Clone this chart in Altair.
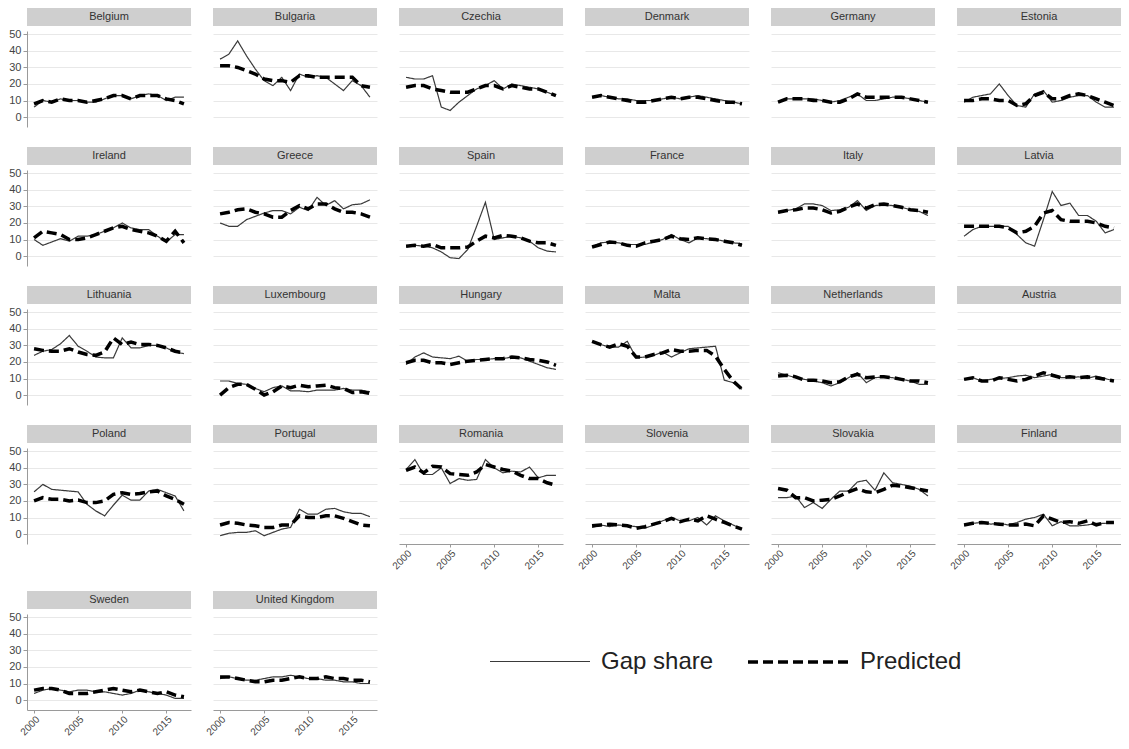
import altair as alt
import pandas as pd

years = list(range(2000, 2018))

belgium_gap = [6, 10, 9, 11, 10, 10, 9, 9, 11, 13, 13, 11, 13, 14, 13, 10, 12, 12]
belgium_pred = [8, 10, 9, 11, 10, 10, 9, 10, 11, 13, 13, 11, 13, 13, 13, 11, 10, 8]
bulgaria_gap = [35, 38, 46, 37, 29, 22, 19, 24, 16, 26, 24, 25, 24, 20, 16, 22, 19, 12]
bulgaria_pred = [31, 31, 30, 28, 26, 23, 22, 22, 21, 25, 25, 24, 24, 24, 24, 24, 19, 18]
czechia_gap = [24, 23, 23, 25, 6, 4, 9, 13, 17, 19, 22, 17, 20, 19, 18, 17, 15, 13]
czechia_pred = [18, 19, 19, 17, 16, 15, 15, 15, 17, 19, 19, 17, 19, 18, 17, 17, 15, 13]
denmark_gap = [12, 13, 12, 11, 11, 10, 10, 10, 11, 12, 11, 12, 13, 12, 11, 10, 9, 8]
denmark_pred = [12, 13, 12, 11, 10, 9, 9, 10, 11, 12, 11, 12, 12, 11, 10, 9, 9, 8]
germany_gap = [9, 11, 11, 11, 11, 10, 9, 10, 12, 14, 10, 10, 11, 12, 12, 11, 10, 9]
germany_pred = [9, 11, 11, 11, 10, 10, 9, 9, 11, 14, 12, 12, 12, 12, 12, 11, 10, 9]
estonia_gap = [9, 12, 13, 14, 20, 13, 7, 6, 14, 16, 9, 10, 12, 13, 13, 9, 6, 6]
estonia_pred = [10, 10, 11, 11, 10, 10, 7, 8, 13, 15, 11, 11, 13, 14, 13, 11, 9, 7]
ireland_gap = [10, 6.5, 8.5, 10.5, 9, 12, 12, 13, 15, 17, 20, 17, 16, 16, 12, 8.5, 13, 13]
ireland_pred = [11, 15, 14, 13, 10, 10, 11, 13, 15, 17, 18, 16, 15, 14, 12, 9, 15, 8]
greece_gap = [20, 18, 18, 22, 24, 26, 27.5, 27.5, 25.5, 29.5, 27.5, 35.5, 30.5, 33.5, 28.5, 31, 31.5, 34]
greece_pred = [25.5, 26.5, 28, 28.5, 26.5, 25.5, 23.5, 23.5, 27.5, 30.5, 28.5, 31.5, 31.5, 28.5, 26.5, 26.5, 25.5, 23.5]
spain_gap = [6, 6.5, 6, 5, 2.5, -1, -1.5, 4, 18, 32.5, 10, 11, 12, 11, 9, 5, 3, 2.5]
spain_pred = [6, 6.5, 6, 7, 5, 5, 5, 5.5, 9, 12, 11, 12.5, 12, 11, 9, 8, 8, 6.5]
france_gap = [5.5, 8, 8.5, 8, 7, 7, 7, 8.5, 10, 13, 10, 8, 11, 10.5, 10, 9, 8, 7.5]
france_pred = [5.5, 7, 8.5, 8, 6.5, 6, 8, 9, 10, 12, 10.5, 10, 11, 10.5, 10, 9, 8, 6.5]
italy_gap = [26, 27.5, 28.5, 31.5, 31.5, 30.5, 27.5, 28, 29.5, 33.5, 27.5, 30.5, 31, 30.5, 29.5, 28, 27, 24.5]
italy_pred = [26.5, 27.5, 28, 29, 29, 28, 26, 27, 29.5, 31.5, 29, 31, 31.5, 30.5, 29.5, 28, 27.5, 26.5]
latvia_gap = [12, 16, 18, 18, 18, 18, 13, 8, 6, 22, 39, 30.5, 32, 24.5, 24.5, 21, 14, 16]
latvia_pred = [18, 18, 18, 18, 18, 17, 14, 15, 18, 26, 27.5, 22, 21, 21, 21, 20, 18, 17]
lithuania_gap = [24, 26.5, 27.5, 31, 36, 29.5, 26.5, 23, 22.5, 22.5, 34.5, 28.5, 28.5, 30, 30, 28.5, 26, 25]
lithuania_pred = [28, 27, 26.5, 26.5, 28, 26, 24.5, 24, 26, 34.5, 30.5, 32, 30.5, 30.5, 30, 28.5, 26.5, 25.5]
luxembourg_gap = [8.5, 8.5, 7, 6.5, 4, 2, 4.5, 5.5, 2.5, 2.5, 2, 3, 3, 3, 4, 3, 3, 2]
luxembourg_pred = [0, 4.5, 6.5, 6.5, 3.5, 0, 2, 5.5, 4.5, 6, 5, 5.5, 6, 4.5, 4, 1.5, 2, 1]
hungary_gap = [18.5, 23, 25.5, 23, 22.5, 22, 23.5, 20.5, 21.5, 21.5, 22, 22, 23, 22.5, 20.5, 18.5, 16.5, 15.5]
hungary_pred = [19.5, 21, 21, 19.5, 19.5, 18.5, 19.5, 20.5, 21, 21.5, 22, 22, 23, 22.5, 21.5, 21, 20, 18]
malta_gap = [32.5, 30.5, 29, 29, 32.5, 22.5, 23, 24, 26, 23, 25.5, 28, 28.5, 29, 29.5, 9, 7.5, 3.5]
malta_pred = [32.5, 30.5, 29, 31, 29.5, 23, 23, 24.5, 25.5, 27.5, 26.5, 26.5, 27, 27, 23.5, 15.5, 8.5, 3.5]
netherlands_gap = [13.5, 12, 10.5, 9.5, 8.5, 7.5, 5.5, 7.5, 10.5, 13.5, 7.5, 10.5, 11, 10.5, 9.5, 8.5, 6.5, 6.5]
netherlands_pred = [11.5, 12, 11, 9, 9, 8.5, 7.5, 8, 11, 12.5, 10.5, 11, 11, 10.5, 9.5, 8.5, 8.5, 7.5]
austria_gap = [9.5, 10.5, 8.5, 9.5, 10, 10.5, 11.5, 12, 10.5, 11.5, 12.5, 10.5, 10.5, 11, 10, 11.5, 10, 8.5]
austria_pred = [9.5, 10.5, 8.5, 8.5, 10.5, 9.5, 8.5, 9.5, 11.5, 13.5, 12, 10.5, 11, 10.5, 11, 10.5, 9.5, 8.5]
poland_gap = [25.5, 30, 27, 26.5, 26, 25.5, 18, 14, 11, 17.5, 23.5, 20.5, 20.5, 26, 27, 25, 23, 14]
poland_pred = [20, 22, 21, 21, 20, 20.5, 19, 19, 20, 24, 25, 24, 24.5, 25.5, 26, 23, 21, 18]
portugal_gap = [-1, 0.5, 1, 1, 2, -1, 1, 3, 4, 15, 12, 12, 15, 15.5, 13.5, 12.5, 12.5, 10.5]
portugal_pred = [5.5, 7, 6.5, 5.5, 5, 4, 4, 5.5, 5.5, 11, 10, 10, 11, 11, 9.5, 7.5, 5.5, 5]
romania_gap = [39, 45, 36, 36, 40, 30.5, 33.5, 32.5, 33, 45, 40, 37, 38, 37.5, 40.5, 34, 35.5, 35.5]
romania_pred = [38.5, 40.5, 37, 41, 40.5, 36.5, 36, 35.5, 37.5, 42, 40.5, 39, 38, 35.5, 33.5, 33.5, 31, 29.5]
slovenia_gap = [4, 5.5, 4.5, 5.5, 5, 4.5, 3.5, 5.5, 8, 10, 8, 8, 10, 5.5, 11, 8, 5.5, 3]
slovenia_pred = [5, 5.5, 6, 5.5, 5, 3.5, 4.5, 6, 7.5, 9.5, 7.5, 9, 8, 11, 9, 7, 5, 3]
slovakia_gap = [22, 22, 23, 16, 19, 15.5, 21, 26, 26, 31.5, 32.5, 26.5, 37, 31, 30, 29, 27, 23]
slovakia_pred = [27.5, 26.5, 22, 22, 20, 20.5, 21, 23, 25.5, 27.5, 25.5, 25, 27, 29.5, 29, 28, 27, 26]
finland_gap = [5, 6.5, 7, 6, 6.5, 5.5, 7, 9, 10, 12, 5, 7.5, 5, 5, 5.5, 6.5, 6.5, 7]
finland_pred = [5.5, 6.5, 7, 6.5, 6, 5.5, 5.5, 6, 5, 11, 9, 7, 7.5, 6.5, 8, 5.5, 7, 7]
sweden_gap = [4, 6, 7, 6, 5, 6, 6, 5, 5, 4, 3, 4, 6, 5, 4, 3, 1, 1]
sweden_pred = [6, 7, 7, 6, 4, 4, 4, 5, 6, 7, 6, 5, 6, 5, 4, 5, 3, 2]
uk_gap = [13, 14, 13, 12, 12, 13, 14, 14, 15, 14, 13, 13, 12, 12, 11, 11, 10, 10]
uk_pred = [14, 14, 13, 12, 11, 11, 12, 12, 13, 14, 13, 13, 14, 13, 13, 12, 12, 11]

countries = [
    ("Belgium", belgium_gap, belgium_pred),
    ("Bulgaria", bulgaria_gap, bulgaria_pred),
    ("Czechia", czechia_gap, czechia_pred),
    ("Denmark", denmark_gap, denmark_pred),
    ("Germany", germany_gap, germany_pred),
    ("Estonia", estonia_gap, estonia_pred),
    ("Ireland", ireland_gap, ireland_pred),
    ("Greece", greece_gap, greece_pred),
    ("Spain", spain_gap, spain_pred),
    ("France", france_gap, france_pred),
    ("Italy", italy_gap, italy_pred),
    ("Latvia", latvia_gap, latvia_pred),
    ("Lithuania", lithuania_gap, lithuania_pred),
    ("Luxembourg", luxembourg_gap, luxembourg_pred),
    ("Hungary", hungary_gap, hungary_pred),
    ("Malta", malta_gap, malta_pred),
    ("Netherlands", netherlands_gap, netherlands_pred),
    ("Austria", austria_gap, austria_pred),
    ("Poland", poland_gap, poland_pred),
    ("Portugal", portugal_gap, portugal_pred),
    ("Romania", romania_gap, romania_pred),
    ("Slovenia", slovenia_gap, slovenia_pred),
    ("Slovakia", slovakia_gap, slovakia_pred),
    ("Finland", finland_gap, finland_pred),
    ("Sweden", sweden_gap, sweden_pred),
    ("United Kingdom", uk_gap, uk_pred),
]
series_names = ["Gap share", "Predicted"]
x_ticks = [2000, 2005, 2010, 2015]
y_ticks = [0, 10, 20, 30, 40, 50]
bottom_panels = {"Romania", "Slovenia", "Slovakia", "Finland", "Sweden", "United Kingdom"}

rows = []
for name, gap, pred in countries:
    for s, vals in zip(series_names, (gap, pred)):
        for yr, v in zip(years, vals):
            rows.append({"country": name, "series": s, "year": yr, "value": v})
df = pd.DataFrame(rows)

W, H = 164, 96
FONT = "Liberation Sans"
GRID = "#e8e8e8"
AXC = "#9a9a9a"


def panel(name, col):
    base = alt.Chart(df).transform_filter(alt.datum.country == name)
    if name in bottom_panels:
        xaxis = alt.Axis(values=x_ticks, format="d", labelAngle=315, title=None, grid=False,
                         domainColor=AXC, tickColor=AXC, tickSize=3, labelFontSize=10,
                         labelColor="#444", labelPadding=1, labelFont=FONT)
    else:
        xaxis = None
    if col == 0:
        yaxis = alt.Axis(values=y_ticks, title=None, grid=True, gridColor=GRID,
                         domainColor=AXC, tickColor=AXC, tickSize=4, labelFontSize=11,
                         labelColor="#444", labelPadding=2, labelFont=FONT)
    else:
        yaxis = alt.Axis(values=y_ticks, title=None, grid=True, gridColor=GRID,
                         labels=False, ticks=False, domain=False)
    lines = base.mark_line().encode(
        x=alt.X("year:Q", scale=alt.Scale(domain=[1999.2, 2017.8], nice=False, zero=False), axis=xaxis),
        y=alt.Y("value:Q", scale=alt.Scale(domain=[-6, 52], nice=False, zero=False), axis=yaxis),
        color=alt.Color("series:N", scale=alt.Scale(domain=series_names, range=["#3a3a3a", "#000000"]),
                        legend=alt.Legend(title=None)),
        strokeDash=alt.StrokeDash("series:N", scale=alt.Scale(domain=series_names, range=[[1, 0], [10, 5]]),
                                  legend=alt.Legend(title=None)),
        strokeWidth=alt.StrokeWidth("series:N", scale=alt.Scale(domain=series_names, range=[1.2, 3.5]),
                                    legend=alt.Legend(title=None)),
    )
    one = base.transform_filter("datum.year == 2000 && datum.series == 'Gap share'")
    hdr = one.mark_rect(color="#cfcfcf").encode(
        x=alt.value(0), x2=alt.value(W), y=alt.value(-23), y2=alt.value(-5))
    txt = one.mark_text(font=FONT, fontSize=11, color="#333", baseline="middle", align="center").encode(
        x=alt.value(W / 2), y=alt.value(-14), text="country:N")
    return alt.layer(hdr, txt, lines).properties(width=W, height=H)


names = [c[0] for c in countries]
grid_rows = [names[i:i + 6] for i in range(0, len(names), 6)]
row_charts = []
for r in grid_rows:
    row_charts.append(alt.hconcat(*[panel(n, j) for j, n in enumerate(r)], spacing=22, bounds="flush"))

chart = alt.vconcat(*row_charts, spacing=20).properties(padding=0).configure_view(
    stroke=None
).configure_legend(
    orient="none", legendX=462, legendY=579, direction="horizontal",
    symbolType="stroke", symbolSize=10000, labelFontSize=24, labelFont=FONT,
    labelColor="#222", labelOffset=10, columnPadding=27, labelLimit=0
).resolve_scale(color="shared", strokeDash="shared", strokeWidth="shared")

chart.save("out.html", embed_options={"renderer": "svg", "actions": False})
